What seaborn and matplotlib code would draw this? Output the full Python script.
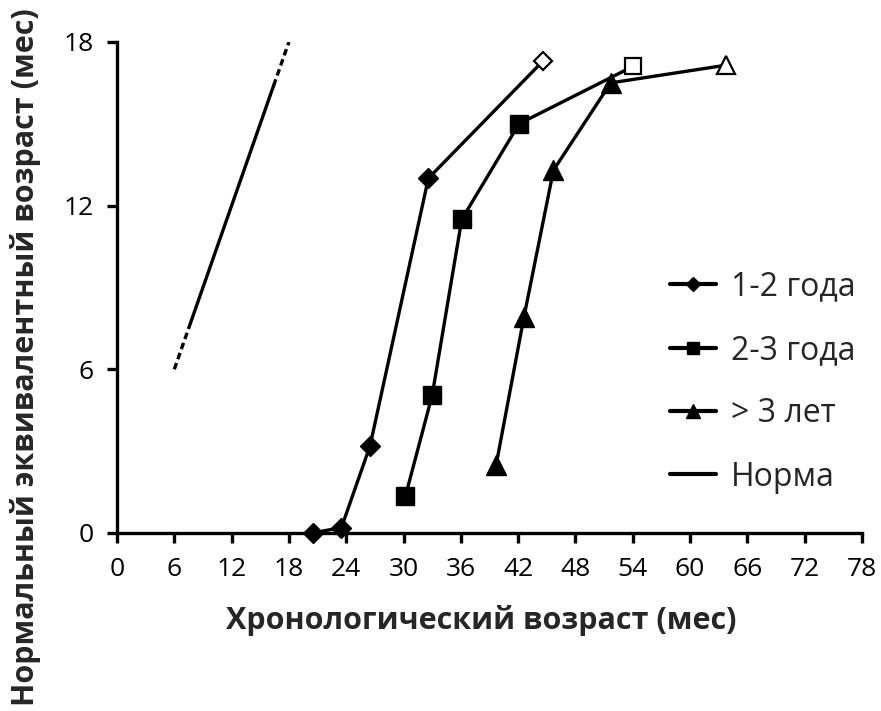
import numpy as np
import pandas as pd
import matplotlib
matplotlib.use("Agg")
import matplotlib.pyplot as plt
import seaborn as sns

# Data (months)
age_12_x = [20.5, 23.5, 26.5, 32.6, 44.6]
age_12_y = [0.0, 0.2, 3.2, 13.0, 17.3]

age_23_x = [30.2, 33.0, 36.1, 42.1, 54.0]
age_23_y = [1.35, 5.05, 11.5, 15.0, 17.1]

age_3_x = [39.7, 42.6, 45.7, 51.7, 63.8]
age_3_y = [2.5, 7.9, 13.3, 16.5, 17.15]

norma_x = [6.0, 7.6, 16.4, 18.0]
norma_y = [6.0, 7.6, 16.4, 18.0]

x_ticks = list(range(0, 79, 6))
y_ticks = [0, 6, 12, 18]

sns.set_style("ticks")
plt.rcParams["font.family"] = ["Open Sans", "DejaVu Sans"]

fig = plt.figure(figsize=(8.81, 7.11), dpi=100)
ax = fig.add_axes([0.1328, 0.2504, 0.8456, 0.6906])

lw = 2.4
series = [
    (age_12_x, age_12_y, "D", 10, "1-2 года"),
    (age_23_x, age_23_y, "s", 12.5, "2-3 года"),
    (age_3_x, age_3_y, "^", 14, "> 3 лет"),
]
for xs, ys, mk, ms, lab in series:
    sns.lineplot(x=xs, y=ys, ax=ax, color="black", lw=lw, marker=mk,
                 markersize=ms, markeredgecolor="black", markeredgewidth=1,
                 markevery=[0, 1, 2, 3], sort=False, clip_on=False,
                 label=lab, zorder=3)
    # last point: open marker
    sns.lineplot(x=[xs[-1]], y=[ys[-1]], ax=ax, color="black", lw=0,
                 marker=mk, markersize=ms * 0.9, markerfacecolor="white",
                 markeredgecolor="black", markeredgewidth=1.6,
                 clip_on=False, label="_nolegend_", zorder=4)

# Norma: dashed ends, solid middle
sns.lineplot(x=norma_x[:2], y=norma_y[:2], ax=ax, color="black", lw=lw,
             linestyle=(0, (2, 1.2)), label="_nolegend_")
sns.lineplot(x=norma_x[1:3], y=norma_y[1:3], ax=ax, color="black", lw=lw,
             label="Норма")
sns.lineplot(x=norma_x[2:], y=norma_y[2:], ax=ax, color="black", lw=lw,
             linestyle=(0, (2, 1.2)), label="_nolegend_")

ax.set_xlim(0, 78)
ax.set_ylim(0, 18)
ax.set_xticks(x_ticks)
ax.set_yticks(y_ticks)
ax.set_xlabel("")
ax.set_ylabel("")
sns.despine(ax=ax)
for s in ["left", "bottom"]:
    ax.spines[s].set_linewidth(2.4)
    ax.spines[s].set_color("black")
ax.tick_params(axis="both", direction="out", length=7, width=2.4,
               colors="black", labelsize=19)
ax.tick_params(axis="x", pad=10)
ax.tick_params(axis="y", pad=10)

fig.text(481 / 881, 1 - 629 / 711, "Хронологический возраст (мес)",
         ha="center", va="baseline", fontsize=22, fontweight="bold")
fig.text(26 / 881, 1 - 357 / 711, "Нормальный эквивалентный возраст (мес)",
         ha="center", va="center", rotation=90, fontsize=22,
         fontweight="bold")

leg = ax.legend(loc="center left", bbox_to_anchor=(670 / 881, 1 - 382 / 711),
                bbox_transform=fig.transFigure, frameon=False, fontsize=23,
                handlelength=1.45, handletextpad=0.45, labelspacing=0.95,
                borderpad=0, borderaxespad=0, markerscale=0.7)
for h in leg.get_lines():
    h.set_linewidth(3)

fig.savefig("out.png", dpi=100)
